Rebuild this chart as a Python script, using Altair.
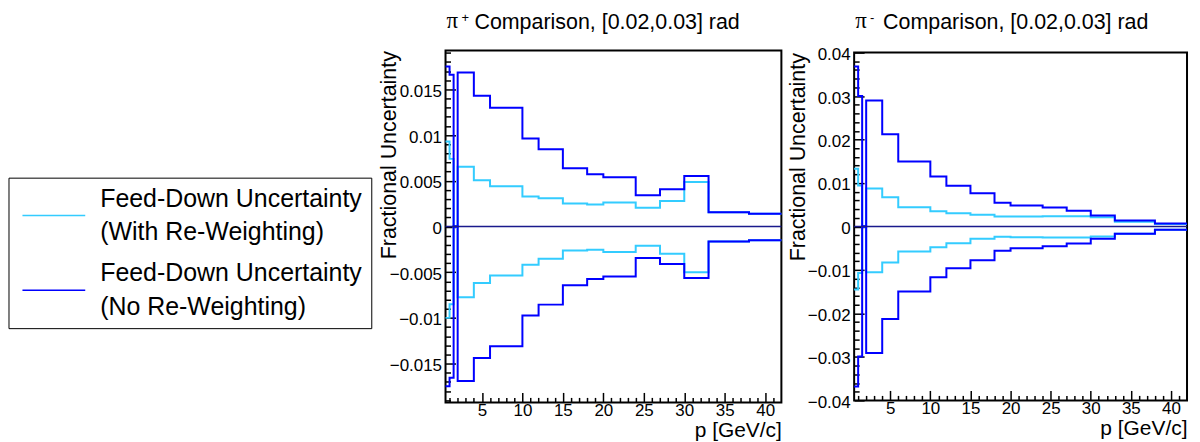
import altair as alt
import pandas as pd

# ---------------- data ----------------
edges = [0.5, 1, 1.5, 2, 4, 6, 10, 12, 15, 18, 20, 24, 27, 30, 33, 38, 42]

# pi+ panel
pip_with_up = [0.0093, 0.0074, 0, 0.00655, 0.00506, 0.0044, 0.00328, 0.00309, 0.00251, 0.0024, 0.00262, 0.00204, 0.0028, 0.00488, 0.00156, 0.00139]
pip_with_lo = [-0.0100, -0.0085, 0, -0.00775, -0.00619, -0.00535, -0.00418, -0.00353, -0.00262, -0.00255, -0.0028, -0.00211, -0.00298, -0.00502, -0.00164, -0.0015]
pip_no_up = [0.0175, 0.0166, 0, 0.01685, 0.0143, 0.0130, 0.00964, 0.00844, 0.00637, 0.00571, 0.00538, 0.00342, 0.00407, 0.00553, 0.00156, 0.00139]
pip_no_lo = [-0.01747, -0.01656, 0, -0.0169, -0.0144, -0.0131, -0.00975, -0.00855, -0.00644, -0.00575, -0.00546, -0.00346, -0.0041, -0.00564, -0.00164, -0.0015]

# pi- panel
pim_with_up = [0.0133, 0.0094, 0, 0.00874, 0.00674, 0.00444, 0.00352, 0.00306, 0.00268, 0.0023, 0.0023, 0.00237, 0.00237, 0.00214, 0.0011, 0.0006]
pim_with_lo = [-0.0145, -0.0107, 0, -0.0105, -0.0083, -0.00575, -0.00475, -0.00383, -0.00284, -0.00238, -0.00245, -0.00253, -0.00253, -0.0023, -0.00169, -0.00077]
pim_no_up = [0.0368, 0.0300, 0, 0.0290, 0.0212, 0.01494, 0.0115, 0.00935, 0.00766, 0.00544, 0.00483, 0.00437, 0.0036, 0.00253, 0.00138, 0.00069]
pim_no_lo = [-0.0368, -0.0299, 0, -0.0291, -0.0213, -0.01494, -0.01165, -0.00958, -0.00774, -0.00559, -0.00498, -0.00452, -0.0039, -0.00284, -0.00169, -0.00077]

series_names = ["With Re-Weighting", "No Re-Weighting"]
series_colors = ["#33ccff", "#0000ff"]
legend_line1 = ["Feed-Down Uncertainty", "Feed-Down Uncertainty"]
legend_line2 = ["(With Re-Weighting)", "(No Re-Weighting)"]

x_major = [5, 10, 15, 20, 25, 30, 35, 40]
x_minor = [i for i in range(1, 42) if i % 5 != 0]
pip_y_major = [-0.015, -0.01, -0.005, 0, 0.005, 0.01, 0.015]
pip_y_minor = [round(i * 0.001, 3) for i in range(-19, 20) if i % 5 != 0]
pim_y_major = [-0.04, -0.03, -0.02, -0.01, 0, 0.01, 0.02, 0.03, 0.04]
pim_y_minor = [round(i * 0.002, 3) for i in range(-19, 20) if i % 5 != 0]

x_title = "p [GeV/c]"
y_title = "Fractional Uncertainty"
title_rest = "Comparison, [0.02,0.03] rad"

FONT = "Liberation Sans"
ZERO_COLOR = "#1a1a8c"
GAP = 73
FULL_H = 353

color_enc = alt.Color("series:N", scale=alt.Scale(domain=series_names, range=series_colors), legend=None)


def hist_rows(values, series, side):
    rows = [{"p": e, "u": v, "series": series, "side": side} for e, v in zip(edges[:-1], values)]
    rows.append({"p": edges[-1], "u": values[-1], "series": series, "side": side})
    return rows


def panel(w_up, w_lo, n_up, n_lo, ydom, ymaj, ymin, W, H, sign):
    df = pd.DataFrame(
        hist_rows(w_up, series_names[0], "up") + hist_rows(w_lo, series_names[0], "lo")
        + hist_rows(n_up, series_names[1], "up") + hist_rows(n_lo, series_names[1], "lo")
    )
    xs = alt.Scale(domain=[0.5, 42], nice=False, zero=False)
    ys = alt.Scale(domain=ydom, nice=False, zero=False)

    main_x = alt.Axis(values=x_major, orient="bottom", title=x_title, domain=False, ticks=False,
                      tickSize=0, grid=False, labelFontSize=17, labelPadding=0, labelFlush=False,
                      labelColor="black", titleFontSize=21, titleFontWeight="normal", titleColor="black",
                      titleX=W, titleY=34, titleAlign="right", titleBaseline="alphabetic")
    main_y = alt.Axis(values=ymaj, orient="left", format="~g", title=y_title, domain=False, ticks=False,
                      tickSize=0, grid=False, labelFontSize=17, labelPadding=4, labelOverlap=False,
                      labelFlush=False, labelColor="black", labelOffset=2,
                      titleFontSize=21.5, titleFontWeight="normal", titleColor="black",
                      titleX=-56, titleY=0, titleAlign="right", titleBaseline="middle")
    maj_x = alt.Axis(values=x_major, orient="top", offset=-H, labels=False, domain=False, grid=False,
                     tickSize=10, tickWidth=1.5, tickColor="black", title=None)
    maj_y = alt.Axis(values=ymaj, orient="right", offset=-W, labels=False, domain=False, grid=False,
                     tickSize=10, tickWidth=1.5, tickColor="black", title=None)
    min_x = alt.Axis(values=x_minor, orient="top", offset=-H, labels=False, domain=False, grid=False,
                     tickSize=5, tickWidth=1.5, tickColor="black", title=None)
    min_y = alt.Axis(values=ymin, orient="right", offset=-W, labels=False, domain=False, grid=False,
                     tickSize=5, tickWidth=1.5, tickColor="black", title=None)

    base = alt.Chart(df)
    light = base.transform_filter(alt.datum.series == series_names[0]).mark_line(
        interpolate="step-after", strokeWidth=2).encode(
        x=alt.X("p:Q", scale=xs, axis=main_x), y=alt.Y("u:Q", scale=ys, axis=main_y),
        color=color_enc, detail="side:N")
    dark = base.transform_filter(alt.datum.series == series_names[1]).mark_line(
        interpolate="step-after", strokeWidth=2).encode(
        x=alt.X("p:Q", scale=xs, axis=maj_x), y=alt.Y("u:Q", scale=ys, axis=maj_y),
        color=color_enc, detail="side:N")
    ghost = base.mark_point(opacity=0).encode(
        x=alt.X("p:Q", scale=xs, axis=min_x), y=alt.Y("u:Q", scale=ys, axis=min_y))
    zero = alt.Chart(pd.DataFrame({"u": [0]})).mark_rule(color=ZERO_COLOR, strokeWidth=1.4).encode(
        y=alt.Y("u:Q", scale=ys, axis=None))

    tdf = pd.DataFrame({"pi": ["\u03c0"], "sign": [sign], "rest": [title_rest]})
    tbase = alt.Chart(tdf)
    top = 49 + (FULL_H - H) / 2  # page y of this panel's top
    t_pi = tbase.mark_text(font="Liberation Serif", fontSize=23, align="left", baseline="alphabetic",
                           color="black").encode(x=alt.value(1), y=alt.value(26 - top), text="pi:N")
    t_sign = tbase.mark_text(fontSize=13, align="left", baseline="alphabetic", color="black").encode(
        x=alt.value(16), y=alt.value(20 - top), text="sign:N")
    t_rest = tbase.mark_text(fontSize=21.5, align="left", baseline="alphabetic", color="black").encode(
        x=alt.value(29), y=alt.value(27 - top), text="rest:N")

    return alt.layer(light, dark, ghost, zero, t_pi, t_sign, t_rest).resolve_axis(
        x="independent", y="independent").properties(
        width=W, height=H, view=alt.ViewBackground(stroke="black", strokeWidth=2))


left = panel(pip_with_up, pip_with_lo, pip_no_up, pip_no_lo, [-0.01925, 0.01925],
             pip_y_major, pip_y_minor, 337, FULL_H, "+")
right = panel(pim_with_up, pim_with_lo, pim_no_up, pim_no_lo, [-0.04, 0.04],
              pim_y_major, pim_y_minor, 334, 349, "-")

# ---------------- legend panel ----------------
legend_df = pd.DataFrame({"series": series_names, "line1": legend_line1, "line2": legend_line2})
ly = alt.Y("series:N", sort=series_names, scale=alt.Scale(type="point", range=[165.5, 240.5], padding=0),
           axis=None)
box = alt.Chart(pd.DataFrame({"b": [0]})).mark_rect(fill="white", stroke="black", strokeWidth=1).encode(
    x=alt.value(0), x2=alt.value(364), y=alt.value(128), y2=alt.value(279))
sym = alt.Chart(legend_df).mark_rule(strokeWidth=1.5).encode(
    x=alt.value(13.5), x2=alt.value(76.5), y=ly, color=color_enc)
txt1 = alt.Chart(legend_df).mark_text(align="left", baseline="alphabetic", fontSize=25, dy=-9,
                                      color="black").encode(x=alt.value(91.5), y=ly, text="line1:N")
txt2 = alt.Chart(legend_df).mark_text(align="left", baseline="alphabetic", fontSize=25, dy=25,
                                      color="black").encode(x=alt.value(91.5), y=ly, text="line2:N")
legend_panel = alt.layer(box, sym, txt1, txt2).properties(width=446 - 8 - GAP, height=FULL_H)

chart = alt.hconcat(legend_panel, left, right, spacing=GAP, bounds="flush", center=True).properties(
    padding={"left": 0, "top": 0, "right": 0, "bottom": 0}
).configure(font=FONT).configure_view(stroke=None)

chart.save("out.html", embed_options={"renderer": "svg", "actions": False})
